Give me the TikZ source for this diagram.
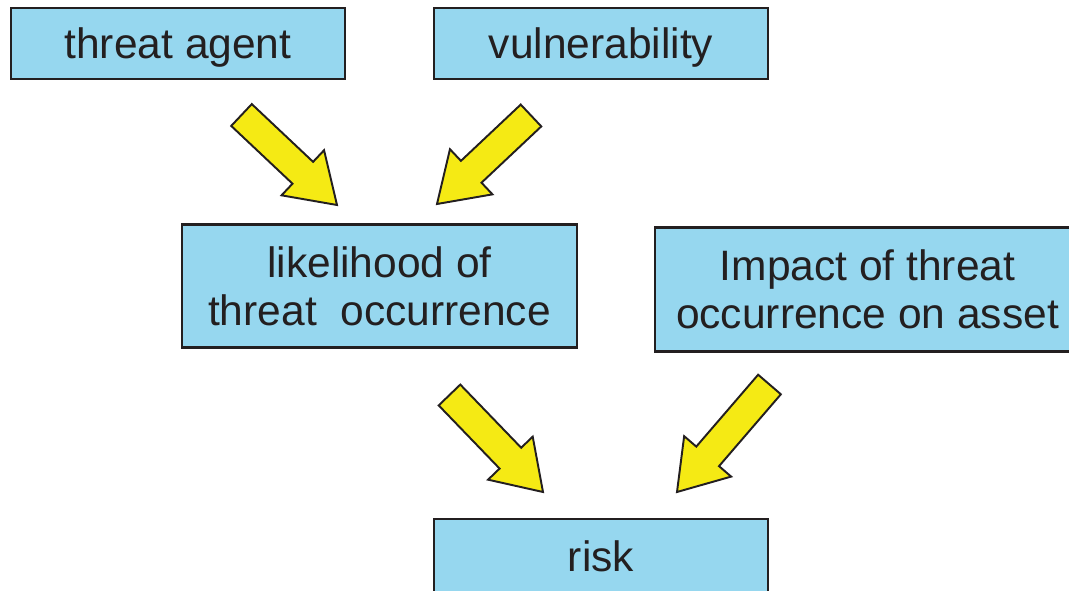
\documentclass[tikz,border=0pt]{standalone}
\usepackage{fontspec}
\setmainfont{Liberation Sans}
\usepackage{tikz}
\usetikzlibrary{calc, positioning}
\definecolor{riskblue}{HTML}{96D7EF}
\definecolor{riskyellow}{HTML}{F5EA14}
\definecolor{riskdark}{HTML}{231F20}

% block arrow from tail coordinate #1 to tip coordinate #2
\newcommand{\blockarrow}[2]{%
  \coordinate (hb) at ($(#2)!0.94cm!(#1)$);
  \filldraw[bigarrow] ($(#1)!0.3cm!90:(#2)$) -- ($(hb)!0.3cm!90:(#2)$) -- ($(hb)!0.62cm!90:(#2)$)
    -- (#2) -- ($(hb)!0.62cm!-90:(#2)$) -- ($(hb)!0.3cm!-90:(#2)$) -- ($(#1)!0.3cm!-90:(#2)$) -- cycle;}

\begin{document}
\begin{tikzpicture}[
    x=0.02cm, y=-0.02cm,
    factor/.style={rectangle, draw=riskdark, fill=riskblue, line width=1.6pt, inner sep=0pt, align=center, text=riskdark, font=\fontsize{24.2pt}{27.5pt}\selectfont},
    small/.style={factor, minimum width=6.68cm, minimum height=1.42cm, text depth=0pt},
    big/.style={factor, minimum height=2.47cm},
    bigarrow/.style={draw=riskdark, fill=riskyellow, line width=1.1pt, line join=miter}
]
\useasboundingbox (0,0) rectangle (1069,591);
\clip (0,0) rectangle (1069,591);

% Nodes
\node[small] (agent) at (178,43.5) {threat agent};
\node[small] (vuln) at (601,43.5) {vulnerability};
\node[big, minimum width=7.9cm] (likely) at (379.5,286) {likelihood of\\threat\ \ occurrence};
\node[big, minimum width=8.5cm] (impact) at (867.5,289.5) {Impact of threat\\occurrence on asset};
\node[small, minimum height=1.5cm] (risk) at (601,556.5) {risk};

% Arrow ends
\coordinate (a1s) at (241.5,115);
\coordinate (a1e) at (337,205);
\coordinate (a2s) at (531,115.5);
\coordinate (a2e) at (437,204);
\coordinate (a3s) at (449.5,395);
\coordinate (a3e) at (543,492);
\coordinate (a4s) at (769.5,384.5);
\coordinate (a4e) at (677,492);

% Arrows
\blockarrow{a1s}{a1e}
\blockarrow{a2s}{a2e}
\blockarrow{a3s}{a3e}
\blockarrow{a4s}{a4e}

\end{tikzpicture}
\end{document}
